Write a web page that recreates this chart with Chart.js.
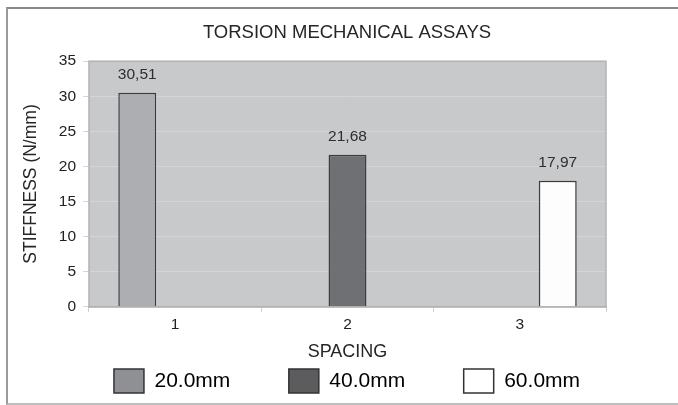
<!DOCTYPE html>
<html>
<head>
<meta charset="utf-8">
<script src="https://cdn.jsdelivr.net/npm/chart.js@4.4.1/dist/chart.umd.min.js"></script>
<style>
html, body { margin: 0; padding: 0; background: #fff; }
#wrap { position: relative; width: 678px; height: 405px; overflow: hidden; }
#frame { position: absolute; left: 6px; top: 7px; width: 720px; height: 394px;
  border-top: 2px solid #8a8a8a; border-left: 2px solid #9a9a9a; border-bottom: 2px solid #bdbdbd; }
canvas { position: absolute; left: 0; top: 0; }
</style>
</head>
<body>
<div id="wrap">
  <div id="frame"></div>
  <canvas id="chart" width="678" height="405"></canvas>
</div>
<script>
// data
var categories = ['1', '2', '3'];
var seriesNames = ['20.0mm', '40.0mm', '60.0mm'];
var stiffness20 = [30.51, null, null];
var stiffness40 = [null, 21.68, null];
var stiffness60 = [null, null, 17.97];
var yTickMax = 35;
var yTickStep = 5;

// styles
var barColors = ['#adaeb1', '#6f7073', '#fdfdfd'];
var legendColors = ['#8e9093', '#5c5c5e', '#ffffff'];
var FONT = '"Liberation Sans", Arial, sans-serif';

// plot background + border
var plotBg = {
  id: 'plotBg',
  beforeDraw: function(chart) {
    var a = chart.chartArea, ctx = chart.ctx;
    ctx.save();
    ctx.fillStyle = '#c8c9cb';
    ctx.fillRect(a.left, a.top, a.right - a.left, a.bottom - a.top);
    ctx.restore();
  },
  beforeDatasetsDraw: function(chart) {
    var a = chart.chartArea, ctx = chart.ctx;
    ctx.save();
    ctx.strokeStyle = '#b2b3b5';
    ctx.lineWidth = 1.5;
    ctx.strokeRect(a.left, a.top, a.right - a.left, a.bottom - a.top);
    ctx.restore();
  }
};

// value labels above bars, decimal comma
var valueLabels = {
  id: 'valueLabels',
  afterDatasetsDraw: function(chart) {
    var ctx = chart.ctx;
    ctx.save();
    ctx.font = '15.5px ' + FONT;
    ctx.fillStyle = '#2e2e2e';
    ctx.textAlign = 'center';
    ctx.textBaseline = 'middle';
    chart.data.datasets.forEach(function(ds, i) {
      chart.getDatasetMeta(i).data.forEach(function(bar, j) {
        var v = ds.data[j];
        if (v === null) return;
        ctx.fillText(v.toFixed(2).replace('.', ','), bar.x, bar.y - 18);
      });
    });
    ctx.restore();
  }
};

var gap = '         ';

new Chart(document.getElementById('chart'), {
  type: 'bar',
  data: {
    labels: categories,
    datasets: [
      { label: seriesNames[0], data: stiffness20, backgroundColor: barColors[0] },
      { label: seriesNames[1], data: stiffness40, backgroundColor: barColors[1] },
      { label: seriesNames[2], data: stiffness60, backgroundColor: barColors[2] }
    ]
  },
  options: {
    responsive: false,
    animation: false,
    devicePixelRatio: 1,
    datasets: {
      bar: { categoryPercentage: 0.66, barPercentage: 1, borderColor: '#3c3c3c', borderWidth: 1.5 }
    },
    layout: { padding: { left: 16, right: 0, top: 12, bottom: 2 } },
    plugins: {
      title: {
        display: true,
        text: 'TORSION MECHANICAL ASSAYS',
        color: '#262626',
        font: { family: FONT, size: 18.5, weight: 'normal' },
        padding: { top: 10, bottom: 17 }
      },
      legend: {
        position: 'bottom',
        maxHeight: 40,
        labels: {
          boxWidth: 30,
          boxHeight: 24,
          padding: 6,
          color: '#222',
          font: { family: FONT, size: 21 },
          generateLabels: function() {
            return seriesNames.map(function(name, i) {
              return {
                text: name + (i < seriesNames.length - 1 ? gap : ''),
                fillStyle: legendColors[i],
                strokeStyle: '#333',
                lineWidth: 1.5,
                hidden: false,
                datasetIndex: i
              };
            });
          }
        }
      },
      tooltip: { enabled: false }
    },
    scales: {
      x: {
        grid: { offset: true, drawOnChartArea: false, tickLength: 5, color: '#d0d0d0' },
        border: { color: '#a5a6a8', width: 1.5 },
        ticks: { color: '#222', padding: 4, font: { family: FONT, size: 15.5 } },
        title: {
          display: true, text: 'SPACING', color: '#262626',
          font: { family: FONT, size: 18 },
          padding: { top: 3, bottom: 0 }
        }
      },
      y: {
        min: 0,
        max: yTickMax,
        ticks: { stepSize: yTickStep, color: '#222', padding: 7, font: { family: FONT, size: 15.5 } },
        grid: { color: '#d4d5d7', tickLength: 6 },
        border: { display: false },
        title: {
          display: true, text: 'STIFFNESS (N/mm)', color: '#262626',
          font: { family: FONT, size: 17.5 },
          padding: { top: 5, bottom: 0 }
        },
        afterFit: function(scale) { scale.width = 73; }
      },
      yRight: {
        type: 'linear',
        position: 'right',
        display: true,
        min: 0,
        max: 1,
        grid: { display: false },
        ticks: { display: false },
        border: { display: false },
        afterFit: function(scale) { scale.width = 72; }
      }
    }
  },
  plugins: [plotBg, valueLabels]
});
</script>
</body>
</html>
